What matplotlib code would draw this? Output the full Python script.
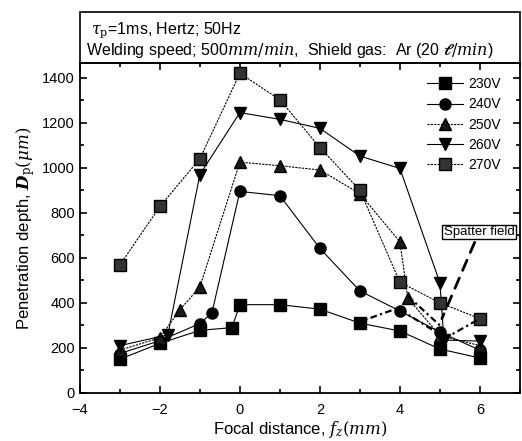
import matplotlib.pyplot as plt
from matplotlib.patches import Rectangle
from matplotlib.ticker import MultipleLocator

plt.rcParams['font.family'] = ['Liberation Sans', 'DejaVu Sans']
plt.rcParams['mathtext.fontset'] = 'dejavuserif'

# data (focal distance in mm, depth in um)
x_230 = [-3, -2, -1, -0.2, 0, 1, 2, 3, 4, 5, 6]
d_230 = [150, 220, 278, 290, 392, 392, 372, 310, 275, 195, 155]

x_240 = [-3, -2, -1, -0.7, 0, 1, 2, 3, 4, 5, 6]
d_240 = [175, 232, 308, 355, 895, 876, 642, 453, 364, 270, 190]

x_250 = [-3, -2, -1.5, -1, 0, 1, 2, 3, 4, 4.2, 5, 6]
d_250 = [190, 245, 369, 471, 1025, 1009, 990, 885, 671, 420, 255, 210]

x_260 = [-3, -1.8, -1, 0, 1, 2, 3, 4, 5, 5.1, 6]
d_260 = [210, 258, 970, 1245, 1215, 1175, 1052, 997, 489, 235, 230]

x_270 = [-3, -2, -1, 0, 1, 2, 3, 4, 5, 6]
d_270 = [568, 828, 1040, 1420, 1302, 1090, 900, 492, 400, 330]

# dash-dot links drawn through the spatter field
spatter_x = [[2.9, 4.0], [4.2, 5.0], [5.1, 6.0], [4.0, 5.0]]
spatter_y = [[310, 380], [430, 300], [240, 330], [370, 260]]

series = [
    ('230V', x_230, d_230, 's', 'black', '-'),
    ('240V', x_240, d_240, 'o', 'black', '-'),
    ('250V', x_250, d_250, '^', '#1a1a1a', (0, (2, 1))),
    ('260V', x_260, d_260, 'v', 'black', '-'),
    ('270V', x_270, d_270, 's', '#333333', (0, (2, 1))),
]

fig = plt.figure(figsize=(5.22, 4.41), dpi=100)
ax = fig.add_axes([0.153, 0.109, 0.843, 0.748])

for name, xs, ys, mk, fc, ls in series:
    ax.plot(xs, ys, color='black', linestyle=ls, linewidth=0.8,
            marker=mk, markersize=8, markerfacecolor=fc,
            markeredgecolor='black', label=name)

for sx, sy in zip(spatter_x, spatter_y):
    ax.plot(sx, sy, color='black', linestyle=(0, (3, 1.5, 1, 1.5)),
            linewidth=1.6)

# spatter field note with dashed pointer
ax.annotate('Spatter field', xy=(5.05, 330), xytext=(5.98, 715),
            ha='center', va='center', fontsize=9.5,
            bbox=dict(boxstyle='square,pad=0.1', fc='white', ec='black', lw=1),
            arrowprops=dict(arrowstyle='-', linestyle=(0, (4, 3)),
                            linewidth=2, color='black', shrinkA=2, shrinkB=0))

ax.set_xlim(-4, 7)
ax.set_ylim(0, 1465)
ax.xaxis.set_major_locator(MultipleLocator(2))
ax.xaxis.set_minor_locator(MultipleLocator(1))
ax.yaxis.set_major_locator(MultipleLocator(200))
ax.yaxis.set_minor_locator(MultipleLocator(100))
ax.tick_params(which='both', direction='in', top=True, right=True,
               labelsize=10.5, width=1.2)
ax.tick_params(which='major', length=5)
ax.tick_params(which='minor', length=3)
ax.tick_params(axis='x', pad=7)
for sp in ax.spines.values():
    sp.set_linewidth(1.3)

ax.set_xlabel(r'Focal distance, $f_{z}(\mathit{mm})$', fontsize=12, labelpad=2)
ax.set_ylabel(r'Penetration depth, $\boldsymbol{D}_{\rm p}(\mathit{\mu m})$',
              fontsize=12, labelpad=4)

ax.legend(loc='upper right', bbox_to_anchor=(0.985, 0.995), frameon=False,
          fontsize=10, handlelength=2.6, labelspacing=0.45,
          handletextpad=0.4)

# condition box above the plot
fig.patches.append(Rectangle((0.153, 0.857), 0.843, 0.116,
                             transform=fig.transFigure, fill=False,
                             edgecolor='black', linewidth=1.2))
fig.text(0.175, 0.932, r'$\tau_{\rm p}$=1ms, Hertz; 50Hz', fontsize=11.5,
         va='center')
fig.text(0.165, 0.886,
         r'Welding speed; 500$\mathit{mm/min}$,  Shield gas:  Ar (20 $\mathbf{\ell}/\mathit{min}$)',
         fontsize=11.5, va='center')

fig.savefig('out.png', dpi=100)
plt.close(fig)
